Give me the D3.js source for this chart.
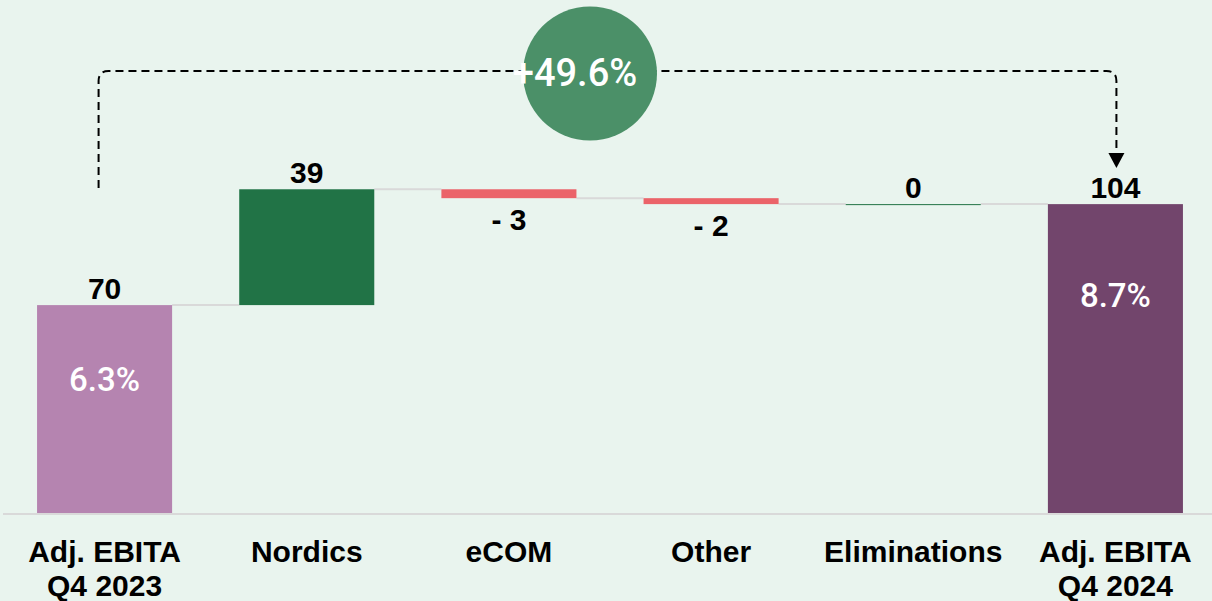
<!DOCTYPE html>
<html>
<head>
<meta charset="utf-8">
<script src="https://cdn.jsdelivr.net/npm/d3@7"></script>
<style>
  html, body { margin: 0; padding: 0; background: #E9F4EE; }
  svg { display: block; }
</style>
</head>
<body>
<script>
var width = 1212, height = 601;

// chart data
var categories = ["Adj. EBITA|Q4 2023", "Nordics", "eCOM", "Other", "Eliminations", "Adj. EBITA|Q4 2024"];
var values = [70, 39, -3, -2, 0, 104];
var kinds = ["total", "delta", "delta", "delta", "delta", "total"];
var valueLabels = ["70", "39", "- 3", "- 2", "0", "104"];
var marginLabels = ["6.3%", "", "", "", "", "8.7%"];
var growthLabel = "+49.6%";

var COLORS = { start: "#B584B0", end: "#72456C", up: "#217346", down: "#EB6369" };

// running totals for the waterfall
var running = 0;
var bars = categories.map(function (c, i) {
    var b = { cat: c, value: values[i], kind: kinds[i], label: valueLabels[i], margin: marginLabels[i] };
    if (b.kind === "total") { b.y0 = 0; b.y1 = b.value; running = b.value; }
    else { b.y0 = running; b.y1 = running + b.value; running = b.y1; }
    return b;
});

var svg = d3.select('body').append('svg').attr('width', width).attr('height', height);

var x = d3.scaleBand().domain(categories).range([3.5, 1216.5]).paddingInner(0.332).paddingOuter(0.166);
var y = d3.scaleLinear().domain([0, 100]).range([513, 216]);
var bw = x.bandwidth();

function barColor(d, i) {
    if (d.kind === "total") return i === 0 ? COLORS.start : COLORS.end;
    return d.value >= 0 ? COLORS.up : COLORS.down;
}

// baseline
svg.append('line')
    .attr('x1', 3).attr('x2', width)
    .attr('y1', y(0) + 1).attr('y2', y(0) + 1)
    .attr('stroke', '#D9D9D9').attr('stroke-width', 2);

// connectors
svg.append('g').selectAll('line')
    .data(bars.slice(0, -1))
    .enter().append('line')
    .attr('x1', function (d) { return x(d.cat) + bw })
    .attr('x2', function (d, i) { return x(bars[i + 1].cat) })
    .attr('y1', function (d) { return y(d.y1) })
    .attr('y2', function (d) { return y(d.y1) })
    .attr('stroke', '#D9D9D9').attr('stroke-width', 2);

// bars
svg.append('g').selectAll('rect')
    .data(bars)
    .enter().append('rect')
    .attr('x', function (d) { return x(d.cat) })
    .attr('width', bw)
    .attr('y', function (d) { return y(Math.max(d.y0, d.y1)) })
    .attr('height', function (d) { return Math.max(1, Math.abs(y(d.y0) - y(d.y1))) })
    .attr('fill', barColor);

// value labels
svg.append('g').selectAll('text')
    .data(bars)
    .enter().append('text')
    .attr('x', function (d) { return x(d.cat) + bw / 2 })
    .attr('y', function (d) {
        if (d.value < 0) return y(Math.min(d.y0, d.y1)) + 32;
        return y(Math.max(d.y0, d.y1)) - 6;
    })
    .attr('text-anchor', 'middle')
    .attr('font-family', 'Liberation Sans, Arial, sans-serif')
    .attr('font-weight', 'bold')
    .attr('font-size', 30)
    .attr('fill', '#000')
    .text(function (d) { return d.label });

// margin labels inside the total bars
var marginOffsets = [86, 103];
svg.append('g').selectAll('text')
    .data(bars.filter(function (d) { return d.margin }))
    .enter().append('text')
    .attr('x', function (d) { return x(d.cat) + bw / 2 })
    .attr('y', function (d, i) { return y(d.y1) + marginOffsets[i] })
    .attr('text-anchor', 'middle')
    .attr('font-family', 'Roboto, sans-serif')
    .attr('font-weight', 500)
    .attr('font-size', 33)
    .attr('fill', '#fff')
    .text(function (d) { return d.margin });

// category labels
var catText = svg.append('g').selectAll('text')
    .data(bars)
    .enter().append('text')
    .attr('text-anchor', 'middle')
    .attr('font-family', 'Liberation Sans, Arial, sans-serif')
    .attr('font-weight', 'bold')
    .attr('font-size', 30)
    .attr('fill', '#000');
catText.selectAll('tspan')
    .data(function (d) { return d.cat.split('|').map(function (t) { return { t: t, cx: x(d.cat) + bw / 2 } }) })
    .enter().append('tspan')
    .attr('x', function (d) { return d.cx })
    .attr('y', function (d, i) { return 562 + i * 34 })
    .text(function (d) { return d.t });

// growth bracket with arrow
var lx = x(categories[0]) + bw / 2 - 6,
    rx = x(categories[categories.length - 1]) + bw / 2 + 1,
    bracketTop = 71;
svg.append('path')
    .attr('d', 'M' + lx + ',188 V' + (bracketTop + 10) + ' Q' + lx + ',' + bracketTop + ' ' + (lx + 10) + ',' + bracketTop +
        ' H' + (rx - 10) + ' Q' + rx + ',' + bracketTop + ' ' + rx + ',' + (bracketTop + 10) + ' V154')
    .attr('fill', 'none')
    .attr('stroke', '#000')
    .attr('stroke-width', 2)
    .attr('stroke-dasharray', '8,5');
svg.append('path')
    .attr('d', 'M' + (rx - 8) + ',153 L' + (rx + 8) + ',153 L' + rx + ',168 Z')
    .attr('fill', '#000');

// growth bubble
svg.append('circle')
    .attr('cx', 590).attr('cy', 73.5).attr('r', 67)
    .attr('fill', '#4B9068');
svg.append('text')
    .attr('x', 575).attr('y', 86)
    .attr('text-anchor', 'middle')
    .attr('font-family', 'Roboto, sans-serif')
    .attr('font-weight', 500)
    .attr('font-size', 38)
    .attr('fill', '#fff')
    .text(growthLabel);
</script>
</body>
</html>
